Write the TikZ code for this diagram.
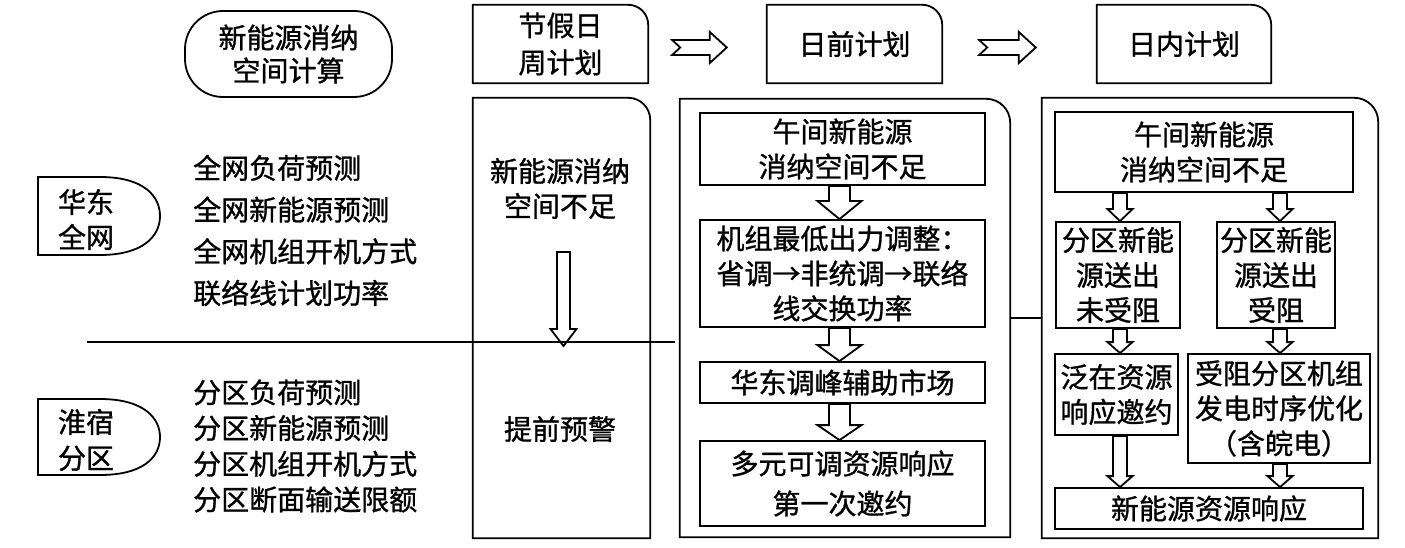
\documentclass[tikz,border=0pt]{standalone}
\usepackage{fontspec}
\newfontfamily\cjk[FakeBold=1]{Noto Sans CJK SC}
\usetikzlibrary{calc}
\newcommand{\cjkf}[1]{\cjk\fontsize{28}{#1}\selectfont}
\newcommand{\fwarr}{\makebox[1em]{→}}
\newcommand{\trframe}[2]{\draw[lw] (#1.south west) -- (#1.north west) -- ($(#1.north east)+(-#2,0)$) arc[start angle=90,end angle=0,radius=#2pt] -- (#1.south east) -- cycle;}
\newcommand{\darr}[6]{%
  \coordinate (dx) at (#1,0);
  \coordinate (dt) at (dx |- #2);
  \coordinate (db) at (dx |- #3);
  \draw[blk] ($(dt)+(-#4,0)$) -- ($(db)+(-#4,-#6)$) -- ($(db)+(-#5,-#6)$) -- (db) -- ($(db)+(#5,-#6)$) -- ($(db)+(#4,-#6)$) -- ($(dt)+(#4,0)$) -- cycle;}
\newcommand{\rarr}[2]{%
  \draw[blk] ($(#1)+(0,-7.5)$) -- ($(#2)+(-17,-7.5)$) -- ($(#2)+(-17,-15.5)$) -- (#2) -- ($(#2)+(-17,15.5)$) -- ($(#2)+(-17,7.5)$) -- ($(#1)+(0,7.5)$) -- ($(#1)+(8,0)$) -- cycle;}
\begin{document}
\begin{tikzpicture}[x=1pt,y=-1pt,
  lw/.style={line width=1.8pt},
  box/.style={draw, lw, rectangle, inner sep=0pt, align=center, font=\cjkf{35}},
  txt/.style={inner sep=0pt, align=center, font=\cjkf{35}},
  frm/.style={inner sep=0pt, draw=none, rectangle},
  blk/.style={lw, line join=miter},
]
\useasboundingbox[fill=white] (0,0) rectangle (1405,548);

% left column
\node[draw, lw, rounded corners=38pt, minimum width=207pt, minimum height=86pt, txt, font=\cjkf{33}] (calc) at (288.5,54) {新能源消纳\\空间计算};

\node[txt] (hd) at (86,219.5) {华东\\全网};
\draw[lw] (38,177) -- (100,177) .. controls (145,177) and (160,197) .. (160,216) .. controls (160,237) and (142,255) .. (100,255) -- (38,255) -- cycle;
\node[txt, font=\cjkf{36}] (hs) at (86,440) {淮宿\\分区};
\draw[lw] (38,399) -- (100,399) .. controls (145,399) and (160,419) .. (160,437) .. controls (160,458) and (142,475) .. (100,475) -- (38,475) -- cycle;

\node[txt, anchor=west, align=left, font=\cjkf{41.7}] (l1) at (193,230.5) {全网负荷预测\\全网新能源预测\\全网机组开机方式\\联络线计划功率};
\node[txt, anchor=west, align=left, font=\cjkf{35.7}] (l2) at (193,446) {分区负荷预测\\分区新能源预测\\分区机组开机方式\\分区断面输送限额};

% top frames
\node[frm, txt, font=\cjkf{37}, minimum width=175pt, minimum height=78pt] (wkT) at (560.5,44) {节假日\\周计划};
\node[frm, txt, minimum width=175pt, minimum height=78pt] (dqT) at (854.5,44) {日前计划};
\node[frm, txt, minimum width=174pt, minimum height=78pt] (dnT) at (1184,44) {日内计划};
\trframe{wkT}{20}
\trframe{dqT}{20}
\trframe{dnT}{20}
\coordinate (ra) at ($(wkT.east)+(24,3.5)$);
\coordinate (rb) at ($(dqT.west)+(-40,3.5)$);
\coordinate (rc) at ($(dqT.east)+(37,3.5)$);
\coordinate (rd) at ($(dnT.west)+(-61,3.5)$);
\rarr{ra}{rb}
\rarr{rc}{rd}

% lower frames
\node[frm, minimum width=177pt, minimum height=440pt] (wkL) at (561.5,318) {};
\node[frm, minimum width=330pt, minimum height=438pt] (dqL) at (845,318) {};
\node[frm, minimum width=336pt, minimum height=440pt] (dnL) at (1210,318) {};
\trframe{wkL}{22}
\trframe{dqL}{24}
\trframe{dnL}{24}
\draw[lw] (dqL.east) -- (dnL.west);

% week column
\node[txt] (wk1) at (560,188.5) {新能源消纳\\空间不足};
\node[txt] (wk2) at (560,429) {提前预警};
\coordinate (ca) at (563.5,252);
\coordinate (cb) at (563.5,346);
\darr{563.5}{ca}{cb}{6.5}{13}{17}

% day-ahead column
\node[box, minimum width=285pt, minimum height=72pt] (dq1) at (842.5,149) {午间新能源\\消纳空间不足};
\node[box, minimum width=285pt, minimum height=107pt] (dq2) at (842.5,273.5) {机组最低出力调整：\\省调\fwarr 非统调\fwarr 联络\\线交换功率};
\node[box, minimum width=285pt, minimum height=41pt] (dq3) at (842.5,382.5) {华东调峰辅助市场};
\node[box, font=\cjkf{40}, minimum width=285pt, minimum height=85pt] (dq4) at (842.5,483.5) {多元可调资源响应\\第一次邀约};
\darr{839.5}{dq1.south}{dq2.north}{10.5}{22}{18}
\darr{839.5}{dq2.south}{dq3.north}{10.5}{22}{16}
\darr{839.5}{dq3.south}{dq4.north}{10.5}{22}{15}

% intraday column
\node[box, minimum width=298pt, minimum height=80pt] (dn1) at (1204,152) {午间新能源\\消纳空间不足};
\node[box, minimum width=124pt, minimum height=106pt] (dnL1) at (1118,275) {分区新能\\源送出\\未受阻};
\node[box, minimum width=118pt, minimum height=106pt] (dnR1) at (1276,275) {分区新能\\源送出\\受阻};
\node[box, minimum width=123pt, minimum height=81pt] (dnL2) at (1116.5,394.5) {泛在资源\\响应邀约};
\node[box, font=\cjkf{35}, minimum width=182pt, minimum height=109pt] (dnR2) at (1279,408.5) {受阻分区机组\\发电时序优化\\（含皖电）};
\node[box, minimum width=308pt, minimum height=41pt] (dnB) at (1209,508.5) {新能源资源响应};
\darr{1120}{dn1.south}{dnL1.north}{7}{12.5}{12}
\darr{1280}{dn1.south}{dnR1.north}{7}{12.5}{12}
\darr{1120}{dnL1.south}{dnL2.north}{7}{12.5}{11}
\darr{1280}{dnR1.south}{dnR2.north}{7}{12.5}{11}
\darr{1120}{dnL2.south}{dnB.north}{7}{12.5}{11}
\darr{1280}{dnR2.south}{dnB.north}{7}{12.5}{11}

% separator
\coordinate (h1) at (87,342);
\coordinate (h2) at (675,342);
\draw[lw] (h1) -- (h2);
\end{tikzpicture}
\end{document}
